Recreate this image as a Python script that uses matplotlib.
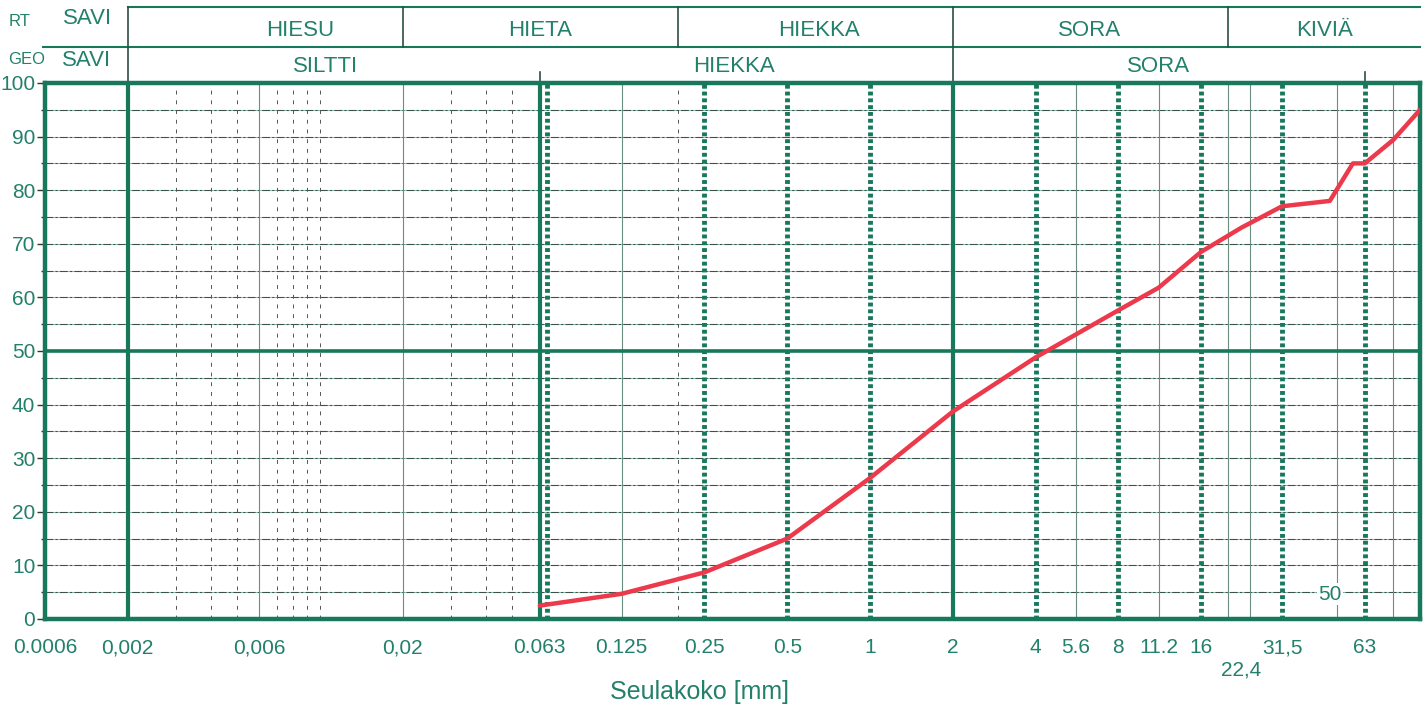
import matplotlib
matplotlib.use("Agg")
import matplotlib.pyplot as plt
import matplotlib.transforms as mtrans
import numpy as np

plt.rcParams['font.family'] = ['Liberation Sans', 'DejaVu Sans']

# sieve curve (grain size mm, passing %)
size_mm = [0.063, 0.125, 0.25, 0.5, 1, 2, 4, 8, 11.2, 16, 22.4, 31.5, 47, 57, 63, 80, 100]
passing = [2.5, 4.7, 8.7, 15.0, 26.3, 38.7, 48.8, 57.6, 61.8, 68.5, 73.0, 77.0, 78.0, 85.0, 85.0, 89.4, 95.0]

# x tick labels
xtick_vals = [0.001, 0.002, 0.006, 0.02, 0.063, 0.125, 0.25, 0.5, 1, 2, 4, 5.6, 8, 11.2, 16, 22.4, 31.5, 63]
xtick_labels = ["0.0006", "0,002", "0,006", "0,02", "0.063", "0.125", "0.25", "0.5", "1", "2",
                "4", "5.6", "8", "11.2", "16", "\n22,4", "31,5", "63"]

# grid line classes
thick_lines = [0.002, 0.063, 2]
dotted_lines = [0.063, 0.25, 0.5, 1, 4, 8, 16, 31.5, 63]
thin_solid = [0.006, 0.02, 0.125, 5.6, 11.2, 20, 24, 50, 80]
thin_dashed = [0.003, 0.004, 0.005, 0.007, 0.008, 0.009, 0.01, 0.03, 0.04, 0.05, 0.2]

# header rows (RT and GEO classification)
rt_names = ["HIESU", "HIETA", "HIEKKA", "SORA", "KIVIÄ"]
rt_centers = [0.0085, 0.063, 0.65, 6.3, 45]
rt_bounds = [0.002, 0.02, 0.2, 2, 20]
geo_names = ["SILTTI", "HIEKKA", "SORA"]
geo_centers = [0.0105, 0.32, 11.2]
geo_bounds = [0.002, 2]

GREEN = '#18785c'
TEXT = '#23806a'
RED = '#ec3a4c'

fig = plt.figure(figsize=(14.25, 7.1), dpi=100)
ax = fig.add_axes([45 / 1425, 1 - 619 / 710, 1375 / 1425, 536 / 710])
ax.set_xscale('log')
ax.set_xlim(0.001, 100)
ax.set_ylim(0, 100)

# horizontal grid every 5 %
for y in range(5, 100, 5):
    if y == 50:
        ax.axhline(y, color=GREEN, lw=2.6, zorder=3)
    else:
        ax.axhline(y, color='#7fc4ad', lw=0.7, zorder=1)
        ax.axhline(y, color='#333333', lw=0.8, dashes=(7, 2, 2, 2), alpha=0.8, zorder=1)

for x in thin_solid:
    ax.axvline(x, color='#6a8f80', lw=0.8, zorder=1)
for x in thin_dashed:
    ax.axvline(x, color='#555555', lw=0.7, dashes=(4, 6), zorder=1)
for x in dotted_lines:
    xx = x * 10 ** (0.025) if x == 0.063 else x
    ax.axvline(xx, color=GREEN, lw=3.5, dashes=(0.8, 0.6), solid_capstyle='butt',
               dash_capstyle='butt', zorder=2)
for x in thick_lines:
    ax.axvline(x, color=GREEN, lw=3, zorder=3)

ax.plot(size_mm, passing, color=RED, lw=3.2, zorder=5, solid_capstyle='round')

ax.text(47, 4.6, "50", color=TEXT, fontsize=15, ha='center', va='center', zorder=4,
        bbox=dict(facecolor='white', edgecolor='none', pad=1))

for s in ax.spines.values():
    s.set_color(GREEN)
    s.set_linewidth(3.2)

# y axis
ax.set_yticks(range(0, 101, 10))
ax.set_yticks(range(5, 100, 10), minor=True)
ax.tick_params(axis='y', which='major', labelsize=15, labelcolor=TEXT, color='#333333',
               length=6, width=1, pad=1)
ax.tick_params(axis='y', which='minor', length=3, width=1, color='#333333')

# x axis
ax.xaxis.set_minor_locator(matplotlib.ticker.NullLocator())
ax.set_xticks(xtick_vals)
ax.set_xticklabels(xtick_labels)
ax.tick_params(axis='x', length=0, labelsize=15, labelcolor=TEXT, pad=14)

fig.text(700 / 1425, 1 - 692 / 710, "Seulakoko [mm]", fontsize=18, color=TEXT,
         ha='center', va='center')

# header above the plot
tr = mtrans.blended_transform_factory(ax.transData, ax.transAxes)
y_top, y_mid = (619 - 7) / 536, (619 - 47) / 536
y_rt, y_geo = (619 - 30) / 536, (619 - 66) / 536
ax.plot([0.002, 100], [y_top, y_top], transform=tr, color=GREEN, lw=1.5, clip_on=False)
ax.plot([0.00098, 100], [y_mid, y_mid], transform=tr, color=GREEN, lw=1.5, clip_on=False)
for b in rt_bounds:
    y0 = 1.0 if b in geo_bounds else y_mid
    ax.plot([b, b], [y0, y_top], transform=tr, color='#2b4f45', lw=1.2, clip_on=False)
for b in [0.063, 63]:
    ax.plot([b, b], [1.0, 1.02], transform=tr, color='#2b4f45', lw=1.2, clip_on=False)
for name, c in zip(rt_names, rt_centers):
    ax.text(c, y_rt, name, transform=tr, ha='center', va='center', fontsize=16, color=TEXT)
for name, c in zip(geo_names, geo_centers):
    ax.text(c, y_geo, name, transform=tr, ha='center', va='center', fontsize=16, color=TEXT)

fig.text(20 / 1425, 1 - 22 / 710, "RT", fontsize=12, color=TEXT, ha='center', va='center')
fig.text(88 / 1425, 1 - 18 / 710, "SAVI", fontsize=16, color=TEXT, ha='center', va='center')
fig.text(27 / 1425, 1 - 60 / 710, "GEO", fontsize=12, color=TEXT, ha='center', va='center')
fig.text(87 / 1425, 1 - 60 / 710, "SAVI", fontsize=16, color=TEXT, ha='center', va='center')

fig.savefig("out.png", dpi=100)
